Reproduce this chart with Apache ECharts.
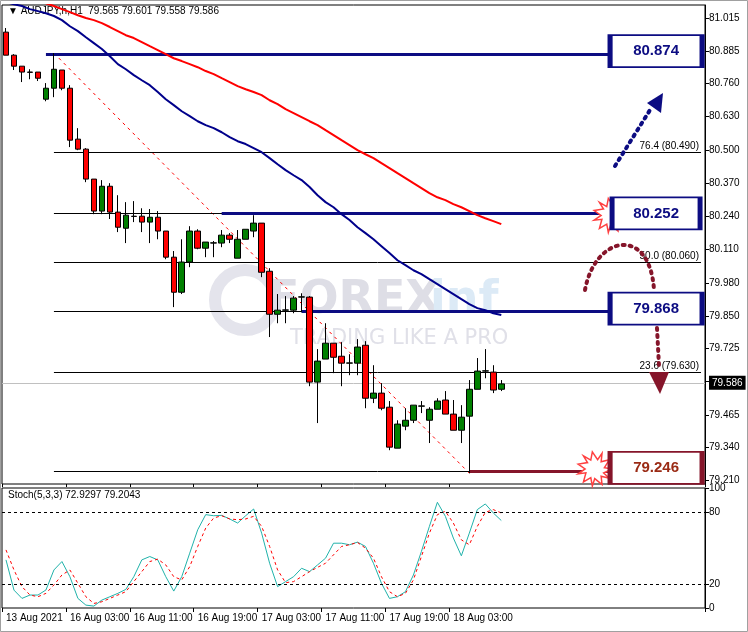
<!DOCTYPE html>
<html><head><meta charset="utf-8">
<script src="https://cdn.jsdelivr.net/npm/echarts@6/dist/echarts.min.js"></script>
<style>html,body{margin:0;padding:0;background:#fff}#c{width:748px;height:632px}</style>
</head><body><div id="c"></div>
<script>
// ---- data ----
const symbolTitle = 'AUDJPY,h,H1  79.565 79.601 79.558 79.586';
const stochTitle = 'Stoch(5,3,3) 72.9297 79.2043';
const timeLabels = ['13 Aug 2021','16 Aug 03:00','16 Aug 11:00','16 Aug 19:00','17 Aug 03:00','17 Aug 11:00','17 Aug 19:00','18 Aug 03:00'];
const priceTicks = [79.210,79.340,79.465,79.595,79.725,79.850,79.980,80.110,80.240,80.370,80.500,80.630,80.760,80.885,81.015];
const stochTicks = [0,20,80,100];
// [open, close, low, high]
const candles = [
[80.960,80.870,80.870,80.976],[80.870,80.827,80.812,80.874],[80.827,80.804,80.765,80.827],[80.804,80.803,80.776,80.815],
[80.804,80.780,80.769,80.804],[80.698,80.741,80.690,80.761],[80.741,80.815,80.706,80.878],[80.812,80.741,80.733,80.812],
[80.741,80.538,80.511,80.753],[80.542,80.503,80.499,80.585],[80.503,80.386,80.374,80.507],[80.386,80.261,80.249,80.386],
[80.261,80.358,80.249,80.382],[80.358,80.257,80.230,80.370],[80.257,80.198,80.179,80.323],[80.194,80.245,80.136,80.296],
[80.241,80.240,80.218,80.300],[80.241,80.218,80.179,80.272],[80.218,80.237,80.136,80.269],[80.237,80.183,80.151,80.261],
[80.183,80.081,80.073,80.183],[80.081,79.944,79.886,80.105],[79.944,80.062,79.937,80.151],[80.062,80.183,80.042,80.202],
[80.183,80.116,80.112,80.190],[80.116,80.140,80.081,80.140],[80.136,80.137,80.081,80.144],[80.136,80.167,80.120,80.187],
[80.167,80.151,80.136,80.175],[80.077,80.151,80.077,80.187],[80.151,80.190,80.151,80.190],[80.183,80.214,80.159,80.245],
[80.214,80.022,80.003,80.214],[80.026,79.858,79.769,80.038],[79.858,79.874,79.823,79.937],[79.874,79.875,79.823,79.929],
[79.874,79.921,79.862,79.929],[79.925,79.926,79.866,79.940],[79.925,79.593,79.577,79.929],[79.593,79.675,79.433,79.722],
[79.683,79.745,79.683,79.823],[79.745,79.690,79.628,79.745],[79.694,79.667,79.577,79.749],[79.667,79.668,79.620,79.702],
[79.667,79.730,79.620,79.761],[79.737,79.530,79.491,79.753],[79.530,79.550,79.511,79.659],[79.550,79.491,79.483,79.589],
[79.495,79.339,79.327,79.519],[79.335,79.429,79.335,79.444],[79.421,79.444,79.405,79.491],[79.444,79.503,79.433,79.503],
[79.499,79.500,79.472,79.519],[79.444,79.487,79.355,79.495],[79.487,79.519,79.487,79.530],[79.523,79.468,79.468,79.558],
[79.468,79.405,79.405,79.523],[79.405,79.456,79.355,79.503],[79.460,79.565,79.237,79.601],[79.565,79.636,79.565,79.687],
[79.636,79.637,79.608,79.722],[79.632,79.562,79.550,79.659],[79.565,79.586,79.558,79.601]];
const maBlue = [81.077,81.069,81.062,81.050,81.042,81.034,81.023,81.007,80.983,80.964,80.940,80.917,80.894,80.866,80.835,80.815,
80.792,80.772,80.753,80.726,80.698,80.675,80.651,80.632,80.612,80.597,80.585,80.569,80.550,80.534,80.523,80.507,80.491,80.468,
80.444,80.421,80.401,80.382,80.355,80.323,80.296,80.276,80.249,80.226,80.198,80.175,80.151,80.124,80.097,80.069,80.050,80.030,
80.015,79.995,79.976,79.956,79.937,79.917,79.898,79.882,79.874,79.862,79.855];
const maRed = [81.116,81.108,81.101,81.093,81.085,81.073,81.062,81.050,81.038,81.026,81.015,81.007,80.995,80.980,80.964,80.948,
80.937,80.921,80.905,80.890,80.874,80.858,80.847,80.835,80.823,80.808,80.796,80.780,80.765,80.749,80.737,80.726,80.714,80.694,
80.679,80.659,80.644,80.628,80.612,80.597,80.577,80.558,80.538,80.519,80.499,80.483,80.468,80.448,80.429,80.409,80.390,80.370,
80.351,80.331,80.315,80.304,80.288,80.276,80.261,80.245,80.233,80.222,80.210];
const stochMain = [40.1,14.9,8.0,10.8,10.8,15.0,31.7,38.7,26.1,8.0,2.4,1.6,6.6,9.4,12.2,15.5,26.1,40.1,42.9,40.1,26.1,14.1,26.1,45.7,
65.2,77.8,76.9,77.2,74.2,70.8,76.9,82.5,62.4,37.3,17.8,22.0,26.1,33.1,30.3,35.9,41.5,54.0,54.0,52.7,54.9,51.3,37.3,20.6,8.0,9.4,
13.6,27.5,47.1,68.0,88.1,76.4,58.3,43.5,62.4,82.0,86.7,79.2,72.9];
const stochSignal = [48.4,31.7,17.8,10.8,9.4,12.2,19.2,27.5,31.7,20.6,9.4,3.8,5.2,8.0,10.8,13.6,22.0,30.3,38.7,40.7,35.9,26.1,23.4,
34.5,51.3,66.6,75.0,76.9,74.2,73.6,74.2,76.4,68.0,51.3,31.7,21.1,22.0,26.1,30.3,33.9,37.3,44.3,51.3,52.7,54.6,49.9,41.5,26.1,
13.6,9.4,12.2,23.4,42.9,62.4,77.8,80.6,70.8,56.8,52.7,68.0,79.7,82.0,79.2];
const fibLow = 79.246, fibHigh = 80.874;
const fibLevels = [0, 23.6, 38.2, 50.0, 61.8, 76.4, 100];
const fibShownLabels = [23.6, 50.0, 76.4];
const keyLevels = [80.874, 80.252, 79.868, 79.246];
const lastPrice = 79.586;
const slots = 88;
// ---- build ----
const cats = Array.from({length: slots}, (_, i) => String(i));
const pad = (a) => a.concat(Array(slots - a.length).fill('-'));
const NAVY = '#0C0C82', DRED = '#85152A';
const font = 'Liberation Sans';
function star(n, r1, r2) {
  let s = 'path://';
  for (let k = 0; k < n * 2; k++) {
    const r = k % 2 ? r2 : r1, a = Math.PI * k / n + (k % 4 === 1 ? 0.15 : 0);
    s += (k ? 'L' : 'M') + (50 + r * Math.cos(a)).toFixed(1) + ',' + (50 + r * Math.sin(a)).toFixed(1);
  }
  return s + 'Z';
}
const starPath = star(11, 50, 28);
const fibLines = fibLevels.map(l => {
  const p = +(fibLow + (fibHigh - fibLow) * l / 100).toFixed(3);
  const show = fibShownLabels.includes(l);
  return [{coord: [6, p], lineStyle: {color: '#000', width: 1, type: 'solid'},
    label: {show, position: 'insideEndTop', formatter: l.toFixed(1) + ' (' + p.toFixed(3) + ')', color: '#000', fontSize: 10, fontFamily: font, distance: [2, 1]}},
    {coord: [slots - 1, p]}];
});
const starts = [5, 27, 37, 58];
const keyLines = keyLevels.map((p, k) => [{coord: [starts[k], p], lineStyle: {color: k === 3 ? DRED : NAVY, width: 3, type: 'solid'}, label: {show: false}}, {coord: [76, p]}]);
const boxes = keyLevels.map((p, k) => ({coord: [81, p], symbol: 'rect', symbolSize: [k === 1 ? 88 : 92, 32], symbolOffset: [3, k === 1 ? 0 : -3],
  itemStyle: {color: '#fff', borderColor: k === 3 ? DRED : NAVY, borderWidth: 3},
  label: {show: true, formatter: p.toFixed(3), color: k === 3 ? '#9A2A14' : NAVY, fontSize: 15, fontWeight: 'bold', fontFamily: 'Liberation Sans'}}));
const stars = [{coord: [76, keyLevels[1]], symbolOffset: [-2, 2]}, {coord: [74, keyLevels[3]], symbolOffset: [-2, -2]}].map(s => Object.assign(s, {
  symbol: starPath, symbolSize: 34, itemStyle: {color: '#fff', borderColor: '#FF4040', borderWidth: 1.5}, label: {show: false}}));
const tickEvery = (i) => i % 8 === 0 && i / 8 < timeLabels.length;

const chart = echarts.init(document.getElementById('c'), null, {renderer: 'canvas'});
chart.setOption({
  animation: false,
  backgroundColor: '#fff',
  grid: [
    {left: 2, right: 43, top: 5, height: 479, show: true, borderColor: '#000', borderWidth: 1},
    {left: 2, right: 43, top: 488, height: 120, show: true, borderColor: '#000', borderWidth: 1}
  ],
  xAxis: [
    {type: 'category', data: cats, gridIndex: 0, boundaryGap: true, axisLabel: {show: false}, axisLine: {show: false},
      axisTick: {show: true, inside: false, length: 3, lineStyle: {color: '#000'}, interval: tickEvery}},
    {type: 'category', data: cats, gridIndex: 1, boundaryGap: true, axisLine: {show: false},
      axisTick: {show: true, length: 4, lineStyle: {color: '#000'}, interval: tickEvery},
      axisLabel: {interval: tickEvery, hideOverlap: false, formatter: (v, i) => timeLabels[i / 8] || '',
        align: 'left', margin: 5, color: '#000', fontSize: 10, fontFamily: font}}
  ],
  yAxis: [
    {type: 'value', gridIndex: 0, position: 'right', min: 79.195, max: 81.066, scale: true, splitLine: {show: false},
      axisLine: {show: true, lineStyle: {color: '#000'}},
      axisTick: {show: true, length: 4, customValues: priceTicks, lineStyle: {color: '#000'}},
      axisLabel: {customValues: priceTicks, formatter: v => v.toFixed(3), color: '#000', fontSize: 10, fontFamily: font, margin: 4}},
    {type: 'value', gridIndex: 1, position: 'right', min: 0, max: 100, splitLine: {show: false},
      axisLine: {show: true, lineStyle: {color: '#000'}},
      axisTick: {show: true, length: 4, customValues: stochTicks, lineStyle: {color: '#000'}},
      axisLabel: {customValues: stochTicks, color: '#000', fontSize: 10, fontFamily: font, margin: 4}}
  ],
  series: [
    {type: 'line', data: pad(maRed), xAxisIndex: 0, yAxisIndex: 0, symbol: 'none', lineStyle: {color: '#FF0000', width: 2}, z: 3},
    {type: 'line', data: pad(maBlue), xAxisIndex: 0, yAxisIndex: 0, symbol: 'none', lineStyle: {color: '#00008B', width: 2}, z: 3},
    {type: 'candlestick', data: pad(candles), xAxisIndex: 0, yAxisIndex: 0, barWidth: 6, z: 4,
      itemStyle: {color: '#008000', color0: '#FF0000', borderColor: '#000', borderColor0: '#000', borderWidth: 1},
      markLine: {symbol: ['none', 'none'], silent: true, z: 2,
        data: [
          {yAxis: lastPrice, lineStyle: {color: '#C0C0C0', width: 1, type: 'solid'},
            label: {position: 'end', formatter: lastPrice.toFixed(3), backgroundColor: '#000', color: '#fff', fontSize: 10, fontFamily: font, padding: [2, 3], distance: 4}},
          [{coord: [6, 80.878], lineStyle: {color: '#FF0000', width: 1, type: [3, 4]}, label: {show: false}}, {coord: [58, 79.237]}]
        ].concat(fibLines).concat(keyLines)},
      markPoint: {silent: true, z: 10, data: stars.concat(boxes)}
    },
    {type: 'line', data: pad(stochMain), xAxisIndex: 1, yAxisIndex: 1, symbol: 'none', lineStyle: {color: '#20B2AA', width: 1},
      markLine: {symbol: ['none', 'none'], silent: true, label: {show: false}, lineStyle: {color: '#000', type: [3, 3], width: 1},
        data: [{yAxis: 80}, {yAxis: 20}]}},
    {type: 'line', data: pad(stochSignal), xAxisIndex: 1, yAxisIndex: 1, symbol: 'none', lineStyle: {color: '#FF0000', width: 1, type: [3, 3]}}
  ],
  graphic: [
    {type: 'rect', shape: {x: 0.5, y: 0.5, width: 747, height: 631}, style: {fill: 'none', stroke: '#A0A0A0', lineWidth: 1}, silent: true},
    {type: 'text', left: 8, top: 6, style: {text: '▼ ' + symbolTitle, fill: '#000', font: '10px "Liberation Sans"'}},
    {type: 'text', left: 8, top: 490, style: {text: stochTitle, fill: '#000', font: '10px "Liberation Sans"'}},
    {type: 'circle', shape: {cx: 245, cy: 300, r: 30}, style: {fill: 'none', stroke: '#E4E4EC', lineWidth: 12}, z: 0, silent: true},
    {type: 'text', left: 268, top: 278, style: {text: 'FOREX', fill: '#DEDEE6', font: 'bold 46px "DejaVu Sans"'}, z: 0, silent: true},
    {type: 'text', left: 430, top: 278, style: {text: 'inf', fill: '#DCEAF6', font: 'bold 46px "DejaVu Sans"'}, z: 0, silent: true},
    {type: 'text', left: 290, top: 328, style: {text: 'TRADING LIKE A PRO', fill: '#E0E0E8', font: '21px "DejaVu Sans"'}, z: 0, silent: true},
    {type: 'line', shape: {x1: 615, y1: 166, x2: 650, y2: 110}, style: {stroke: NAVY, lineWidth: 4, lineDash: [2, 5], lineCap: 'round'}, z: 20},
    {type: 'polygon', shape: {points: [[647, 103], [663, 93], [661, 113]]}, style: {fill: NAVY}, z: 20},
    {type: 'bezierCurve', shape: {x1: 585, y1: 290, cpx1: 595, cpy1: 235, cpx2: 650, cpy2: 225, x2: 654, y2: 290}, style: {stroke: DRED, fill: 'none', lineWidth: 4, lineDash: [2, 5], lineCap: 'round'}, z: 20},
    {type: 'line', shape: {x1: 657, y1: 328, x2: 659, y2: 366}, style: {stroke: DRED, lineWidth: 4, lineDash: [2, 5], lineCap: 'round'}, z: 20},
    {type: 'polygon', shape: {points: [[649, 372], [669, 372], [660, 394]]}, style: {fill: DRED}, z: 20}
  ]
});
</script></body></html>
